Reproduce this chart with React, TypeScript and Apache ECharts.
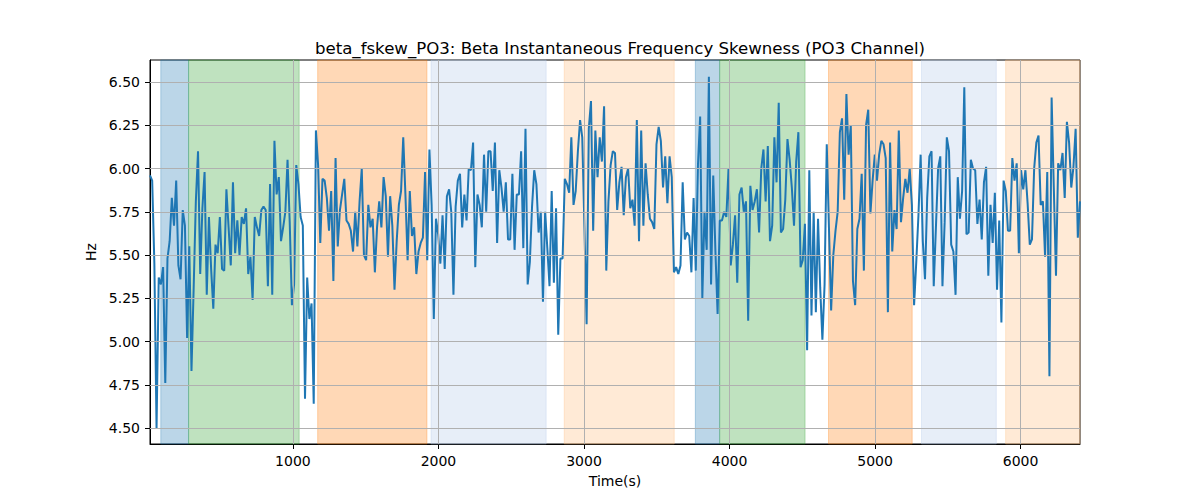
import React, { useEffect, useRef } from 'react';
import * as echarts from 'echarts';

// seconds of the first window and the window step
const timeStart = 18;
const timeStep = 15;

// beta frequency skewness per window (Hz)
const skewValues = [
  5.96, 5.93, 5.45, 4.50, 5.37, 5.33, 5.43, 4.76, 5.48, 5.58,
  5.83, 5.67, 5.93, 5.44, 5.36, 5.76, 5.67, 5.02, 5.55, 4.83,
  5.31, 5.81, 6.10, 5.39, 5.77, 5.98, 5.27, 5.72, 5.42, 5.19,
  5.56, 5.51, 5.72, 5.42, 5.41, 5.88, 5.66, 5.44, 5.92, 5.51,
  5.70, 5.50, 5.72, 5.68, 5.77, 5.39, 5.49, 5.24, 5.72, 5.66,
  5.61, 5.76, 5.78, 5.76, 5.32, 5.91, 5.27, 6.16, 5.85, 5.95,
  5.58, 5.66, 5.75, 6.05, 5.69, 5.21, 5.33, 6.02, 5.91, 5.72,
  5.67, 4.67, 5.37, 5.13, 5.22, 4.64, 6.22, 6.02, 5.57, 5.94,
  5.93, 5.83, 5.64, 5.87, 5.35, 6.06, 5.55, 5.76, 5.85, 5.94,
  5.70, 5.68, 5.64, 5.52, 5.75, 5.55, 5.81, 6.00, 5.50, 5.47,
  5.79, 5.66, 5.71, 5.40, 5.66, 5.81, 5.66, 5.95, 5.84, 5.49,
  5.84, 5.67, 5.30, 5.58, 5.79, 5.87, 6.18, 5.85, 5.47, 5.87,
  5.61, 5.66, 5.39, 5.52, 5.57, 5.60, 5.98, 5.47, 6.11, 5.79,
  5.13, 5.71, 5.62, 5.45, 5.73, 5.42, 5.84, 5.88, 5.75, 5.27,
  5.78, 5.93, 5.97, 5.66, 5.85, 5.70, 6.00, 5.99, 6.15, 5.43,
  5.85, 5.79, 5.66, 6.08, 5.75, 6.10, 6.10, 5.87, 6.15, 5.57,
  5.99, 5.89, 5.75, 5.92, 5.59, 5.59, 5.97, 5.53, 5.85, 5.85,
  6.10, 5.54, 6.23, 5.33, 5.46, 5.78, 5.99, 5.91, 5.63, 5.75,
  5.23, 5.75, 5.54, 5.32, 5.87, 5.34, 5.77, 5.04, 5.48, 5.48,
  5.94, 5.91, 5.86, 6.18, 5.79, 5.87, 6.10, 6.28, 6.18, 5.66,
  5.10, 6.23, 6.39, 5.64, 6.22, 5.95, 6.18, 6.04, 6.36, 5.41,
  5.81, 6.02, 6.10, 6.09, 5.76, 5.92, 6.01, 5.73, 5.95, 6.00,
  5.77, 5.82, 5.67, 6.28, 5.58, 6.22, 5.67, 6.03, 5.85, 5.71,
  5.69, 5.65, 6.14, 6.24, 6.16, 5.89, 6.07, 5.80, 6.07, 5.95,
  5.40, 5.43, 5.39, 5.44, 5.92, 5.59, 5.63, 5.61, 5.40, 5.83,
  5.41, 6.02, 6.30, 5.25, 5.75, 5.53, 6.53, 5.33, 5.96, 5.52,
  5.16, 5.70, 5.70, 5.75, 5.72, 6.00, 5.44, 5.56, 5.73, 5.34,
  5.85, 5.89, 5.75, 5.81, 5.12, 5.90, 5.76, 5.81, 5.88, 5.63,
  6.00, 6.11, 5.81, 6.13, 5.58, 5.67, 6.18, 5.92, 6.38, 5.63,
  5.65, 5.82, 6.17, 6.05, 5.89, 5.67, 6.04, 6.21, 5.43, 5.47,
  5.68, 4.95, 5.99, 5.15, 5.75, 5.17, 5.71, 5.31, 5.01, 5.33,
  6.14, 5.66, 5.18, 5.50, 5.64, 5.75, 6.21, 6.29, 5.82, 6.43,
  6.08, 6.25, 5.35, 5.21, 5.65, 5.71, 5.97, 5.41, 6.25, 6.34,
  5.74, 5.93, 6.08, 5.93, 6.08, 6.16, 6.14, 6.06, 5.17, 6.15,
  5.52, 5.76, 5.65, 6.22, 5.69, 5.83, 5.94, 5.86, 6.00, 5.79,
  5.21, 5.46, 5.73, 6.08, 5.58, 5.36, 5.83, 6.07, 6.10, 5.32,
  5.66, 6.00, 6.07, 5.32, 5.69, 6.18, 6.10, 5.56, 5.52, 5.27,
  5.95, 5.71, 5.87, 6.47, 5.62, 5.63, 6.05, 6.00, 5.99, 5.68,
  5.82, 5.59, 5.92, 6.01, 5.38, 5.79, 5.57, 5.86, 5.30, 5.70,
  5.11, 5.93, 5.87, 5.64, 5.64, 6.06, 5.93, 6.03, 5.51, 5.99,
  5.88, 5.99, 5.80, 5.56, 5.59, 6.00, 6.15, 6.19, 5.79, 5.81,
  5.49, 5.98, 4.80, 6.41, 5.89, 5.38, 6.03, 5.99, 6.09, 5.83,
  6.27, 6.15, 5.89, 6.01, 6.23, 5.60, 5.81,
];

// shaded stages [start, end] in seconds and their kind
const bandSpans = [
  [92, 283], [283, 1043], [1170, 1921], [1949, 2740], [2864, 3620],
  [3765, 3932], [3932, 4519], [4680, 5255], [5319, 5833], [5897, 6408],
];
const bandKinds = [
  'blue', 'green', 'orange', 'paleBlue', 'paleOrange',
  'blue', 'green', 'orange', 'paleBlue', 'paleOrange',
];

const xTicks = [1000, 2000, 3000, 4000, 5000, 6000];
const yTicks = [4.5, 4.75, 5.0, 5.25, 5.5, 5.75, 6.0, 6.25, 6.5];

const bandColors: Record<string, string> = {
  blue: 'rgba(31,119,180,0.3)',
  green: 'rgba(44,160,44,0.3)',
  orange: 'rgba(255,127,14,0.3)',
  paleBlue: 'rgba(174,199,232,0.3)',
  paleOrange: 'rgba(255,187,120,0.3)',
};

const FONT = 'DejaVu Sans';

const App: React.FC = () => {
  const chartRef = useRef<HTMLDivElement>(null);

  useEffect(() => {
    if (!chartRef.current) return;
    const chart = echarts.init(chartRef.current, null, { renderer: 'svg' });

    const lineData = skewValues.map((v, i) => [timeStart + i * timeStep, v]);
    const tMax = timeStart + (skewValues.length - 1) * timeStep;

    const areas = bandSpans.map((s, i) => {
      const c = bandColors[bandKinds[i]];
      return [
        { xAxis: s[0], itemStyle: { color: c, borderColor: c, borderWidth: 1 } },
        { xAxis: s[1] },
      ];
    });

    const gridLines = [
      ...xTicks.map((t) => ({ xAxis: t })),
      ...yTicks.map((t) => ({ yAxis: t })),
    ];

    const option = {
      animation: false,
      title: {
        text: 'beta_fskew_PO3: Beta Instantaneous Frequency Skewness (PO3 Channel)',
        left: 615,
        top: 35,
        textAlign: 'center',
        textStyle: { fontFamily: FONT, fontSize: 16.6, fontWeight: 'normal', color: '#000' },
      },
      grid: {
        left: 150,
        right: 120,
        top: 60,
        bottom: 56,
        show: true,
        borderColor: '#000',
        borderWidth: 1,
        backgroundColor: 'transparent',
      },
      xAxis: {
        type: 'value',
        min: timeStart,
        max: tMax,
        name: 'Time(s)',
        nameLocation: 'middle',
        nameGap: 30,
        nameTextStyle: { fontFamily: FONT, fontSize: 14, color: '#000' },
        axisLine: { lineStyle: { color: '#000', width: 1 } },
        axisTick: { customValues: xTicks, length: 5, lineStyle: { color: '#000' } },
        axisLabel: {
          customValues: xTicks,
          margin: 10,
          fontFamily: FONT,
          fontSize: 14,
          color: '#000',
          formatter: (v: number) => String(Math.round(v)),
        },
        splitLine: { show: false },
      },
      yAxis: {
        type: 'value',
        min: 4.408,
        max: 6.627,
        name: 'Hz',
        nameLocation: 'middle',
        nameRotate: 90,
        nameGap: 47,
        nameTextStyle: { fontFamily: FONT, fontSize: 14, color: '#000' },
        axisLine: { show: true, lineStyle: { color: '#000', width: 1 } },
        axisTick: { show: true, customValues: yTicks, length: 5, lineStyle: { color: '#000' } },
        axisLabel: {
          customValues: yTicks,
          margin: 10,
          fontFamily: FONT,
          fontSize: 14,
          color: '#000',
          formatter: (v: number) => v.toFixed(2),
        },
        splitLine: { show: false },
      },
      series: [
        {
          type: 'line',
          data: [],
          z: 1,
          silent: true,
          markArea: { silent: true, data: areas },
          markLine: {
            silent: true,
            symbol: 'none',
            label: { show: false },
            lineStyle: { color: '#b0b0b0', width: 1, type: 'solid' },
            data: gridLines,
          },
        },
        {
          type: 'line',
          data: lineData,
          z: 3,
          showSymbol: false,
          symbol: 'none',
          lineStyle: { color: '#1f77b4', width: 2 },
          itemStyle: { color: '#1f77b4' },
        },
      ],
    };

    chart.setOption(option);
    return () => {
      chart.dispose();
    };
  }, []);

  return (
    <div
      ref={chartRef}
      style={{ position: 'absolute', left: 0, top: 0, width: '1200px', height: '500px', background: '#fff' }}
    />
  );
};

export default App;
